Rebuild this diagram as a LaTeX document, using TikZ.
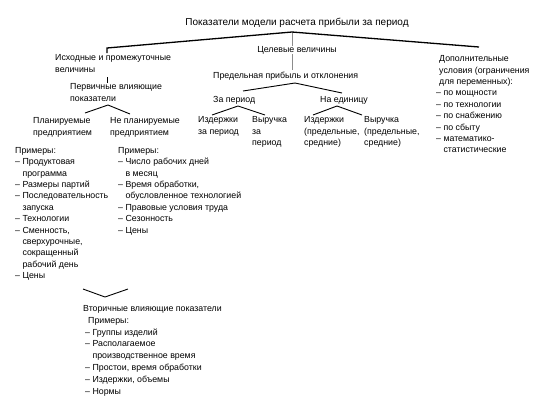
\documentclass[tikz,border=0pt]{standalone}
\usepackage{fontspec}
\setmainfont{Liberation Sans}
\newcommand\diafont{\fontsize{8.8}{11.4}\selectfont}
\newcommand\botfont{\fontsize{8.8}{11.8}\selectfont}
\newcommand\titlefont{\fontsize{10}{11.4}\selectfont}
\newcommand\ind{\hphantom{– }}
\begin{document}
\begin{tikzpicture}[x=1pt,y=-1pt,
  txt/.style={inner sep=0pt, anchor=base west, font=\diafont},
  mtxt/.style={inner sep=0pt, anchor=north west, align=left, font=\diafont,
    execute at begin node={\rule{0pt}{7.5pt}}},
  ctxt/.style={inner sep=0pt, anchor=base, font=\diafont},
  thick line/.style={line width=1.3pt, line join=miter},
  branch/.style={line width=0.9pt},
  thin line/.style={line width=0.4pt, black!45}]
\useasboundingbox (0,0) rectangle (545,408);
% coordinates of branch points
\coordinate (topL) at (107,53);
\coordinate (topLc) at (107,48);
\coordinate (apex) at (292,32);
\coordinate (topR) at (479,47);
\coordinate (goalEnd) at (292,70);
\coordinate (srcA) at (107,77);
\coordinate (srcB) at (107,83);
\coordinate (pL) at (85,113);
\coordinate (pA) at (108,105);
\coordinate (pR) at (130,114);
\coordinate (mL) at (243,91);
\coordinate (mA) at (295,83);
\coordinate (mR) at (342,93);
\coordinate (zL) at (212,115);
\coordinate (zA) at (238,106);
\coordinate (zR) at (265,115);
\coordinate (uL) at (313,115);
\coordinate (uA) at (337,106);
\coordinate (uR) at (362,115);
\coordinate (vL) at (83,289);
\coordinate (vA) at (105,297);
\coordinate (vR) at (128,289);

\draw[thin line] (apex) -- (goalEnd);
\node[ctxt, fill=white, inner xsep=1pt] (goal) at (297,52) {Целевые величины};

\node[ctxt, font=\titlefont] (title) at (297,25) {Показатели модели расчета прибыли за период};
\node[mtxt] (src) at (55,54.5) {Исходные и промежуточные\\величины};
\node[mtxt] (prim) at (70,83.5) {Первичные влияющие\\показатели};
\node[mtxt] (plan) at (33,117.5) {Планируемые\\предприятием};
\node[mtxt] (nplan) at (110,117.5) {Не планируемые\\предприятием};
\node[mtxt] (exL) at (15,147) {Примеры:\\
– Продуктовая\\\ind программа\\
– Размеры партий\\
– Последовательность\\\ind запуска\\
– Технологии\\
– Сменность,\\\ind сверхурочные,\\\ind сокращенный\\\ind рабочий день\\
– Цены};
\node[mtxt] (exM) at (118,147) {Примеры:\\
– Число рабочих дней\\\ind в месяц\\
– Время обработки,\\\ind обусловленное технологией\\
– Правовые условия труда\\
– Сезонность\\
– Цены};
\node[txt] (marg) at (213,78) {Предельная прибыль и отклонения};
\node[txt] (per) at (213,102) {За период};
\node[txt] (unit) at (320,102) {На единицу};
\node[mtxt] (c1) at (198,116.5) {Издержки\\за период};
\node[mtxt] (r1) at (252,116.5) {Выручка\\за\\период};
\node[mtxt] (c2) at (304,116.5) {Издержки\\(предельные,\\средние)};
\node[mtxt] (r2) at (364,116.5) {Выручка\\(предельные,\\средние)};
\node[mtxt] (add) at (439,55.5) {Дополнительные\\условия (ограничения\\для переменных):\\
\hspace{-3pt}– по мощности\\\hspace{-3pt}– по технологии\\\hspace{-3pt}– по снабжению\\\hspace{-3pt}– по сбыту\\\hspace{-3pt}– математико-\\\hspace{-3pt}\ind статистические};
\node[txt] (sec) at (83,311) {Вторичные влияющие показатели};
\node[mtxt, font=\botfont] (exB) at (85,317) {\hspace{3pt}Примеры:\\
– Группы изделий\\
– Располагаемое\\\ind производственное время\\
– Простои, время обработки\\
– Издержки, объемы\\
– Нормы};

\draw[thick line] (topL) -- (topLc) -- (apex) -- (topR);
\draw[branch] (srcA) -- (srcB);
\draw[branch] (pL) -- (pA) -- (pR);
\draw[branch] (mL) -- (mA) -- (mR);
\draw[branch] (zL) -- (zA) -- (zR);
\draw[branch] (uL) -- (uA) -- (uR);
\draw[branch] (vL) -- (vA) -- (vR);
\end{tikzpicture}
\end{document}
